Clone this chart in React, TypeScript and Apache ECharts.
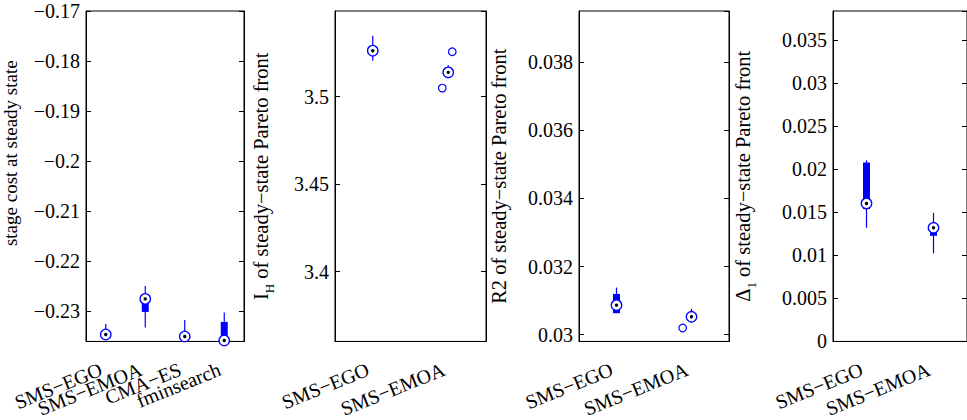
import { useEffect, useRef } from 'react';
import * as echarts from 'echarts';

const BLUE = '#0000ff';
const FONT = 'Liberation Serif';

// Panel 1: stage cost at steady state for four optimisers
const costCategories = ['SMS−EGO', 'SMS−EMOA', 'CMA−ES', 'fminsearch'];
const costLower = [-0.2349, -0.2332, -0.2352, -0.2359];
const costQ1 = [-0.2347, -0.2301, -0.2351, -0.2358];
const costMedian = [-0.2346, -0.2275, -0.235, -0.2358];
const costQ3 = [-0.2344, -0.2274, -0.2348, -0.2321];
const costUpper = [-0.2325, -0.2249, -0.2317, -0.2302];

// Panel 2: hypervolume I_H of the steady-state Pareto front
const pareto2Categories = ['SMS−EGO', 'SMS−EMOA'];
const hvLower = [3.5206, 3.5125];
const hvQ1 = [3.5245, 3.513];
const hvMedian = [3.5263, 3.5139];
const hvQ3 = [3.528, 3.515];
const hvUpper = [3.5349, 3.518];
// outliers: [category index, value, horizontal jitter as a fraction of the band]
const hvOutliers = [
  [1, 3.5257, 0.053],
  [1, 3.5049, -0.079],
];

// Panel 3: R2 indicator
const r2Lower = [0.03063, 0.03045];
const r2Q1 = [0.03063, 0.03048];
const r2Median = [0.030866, 0.030525];
const r2Q3 = [0.031195, 0.03057];
const r2Upper = [0.031382, 0.030758];
const r2Outliers = [[1, 0.030195, -0.117]];

// Panel 4: spread indicator Δ1
const deltaLower = [0.01321, 0.01024];
const deltaQ1 = [0.01538, 0.01228];
const deltaMedian = [0.01604, 0.01321];
const deltaQ3 = [0.02079, 0.0133];
const deltaUpper = [0.02105, 0.01495];

const boxRows = (n: number, lo: number[], q1: number[], med: number[], q3: number[], hi: number[]) =>
  Array.from({ length: n }, (_, i) => [i, lo[i], q1[i], med[i], q3[i], hi[i]]);

const renderBox = (_params: any, api: any) => {
  const i = api.value(0);
  const [cx, yLo] = api.coord([i, api.value(1)]);
  const yQ1 = api.coord([i, api.value(2)])[1];
  const yMed = api.coord([i, api.value(3)])[1];
  const yQ3 = api.coord([i, api.value(4)])[1];
  const yHi = api.coord([i, api.value(5)])[1];
  return {
    type: 'group',
    children: [
      { type: 'line', shape: { x1: cx, y1: yLo, x2: cx, y2: yHi }, style: { stroke: BLUE, lineWidth: 1.2 } },
      { type: 'rect', shape: { x: cx - 3.5, y: yQ3, width: 7, height: Math.max(yQ1 - yQ3, 0) }, style: { fill: BLUE } },
      { type: 'circle', shape: { cx, cy: yMed, r: 5.2 }, style: { fill: '#ffffff', stroke: BLUE, lineWidth: 1.3 } },
      { type: 'circle', shape: { cx, cy: yMed, r: 1.7 }, style: { fill: '#000000' } },
    ],
  };
};

const renderOutlier = (_params: any, api: any) => {
  const [cx, cy] = api.coord([api.value(0), api.value(1)]);
  const band = api.size([1, 0])[0];
  return {
    type: 'circle',
    shape: { cx: cx + api.value(2) * band, cy, r: 3.8 },
    style: { fill: 'none', stroke: BLUE, lineWidth: 1.2 },
  };
};

const fmt = (v: number) => String(parseFloat(v.toPrecision(10))).replace('-', '−');

const grids = [
  { left: 86, top: 11, width: 158, height: 332 },
  { left: 335, top: 11, width: 151, height: 332 },
  { left: 579, top: 11, width: 150, height: 332 },
  { left: 833, top: 11, width: 135, height: 332 },
];

const yRanges = [
  { min: -0.236, max: -0.17, splitNumber: 7, showMax: true },
  { min: 3.36, max: 3.549, splitNumber: 4, showMax: false },
  { min: 0.0298, max: 0.0395, splitNumber: 5, showMax: false },
  { min: 0, max: 0.0384, splitNumber: 8, showMax: false },
];

const nameRich = {
  m: { fontFamily: FONT, fontSize: 20.5, color: '#000' },
  s: { fontFamily: FONT, fontSize: 13, color: '#000', padding: [18, 0, 0, 0] },
};

const yNames = [
  { name: 'stage cost at steady state', gap: 66, style: { fontSize: 19, padding: [0, 0, 0, 46] } },
  { name: '{m|I}{s|H}{m| of steady−state Pareto front}', gap: 59, style: { rich: nameRich } },
  { name: 'R2 of steady−state Pareto front', gap: 70, style: { fontSize: 20.5 } },
  { name: '{m|Δ}{s|1}{m| of steady−state Pareto front}', gap: 75, style: { rich: nameRich } },
];

export default function App() {
  const ref = useRef<HTMLDivElement>(null);

  useEffect(() => {
    if (!ref.current) return;
    const chart = echarts.init(ref.current, undefined, { renderer: 'svg' });

    const categoriesPerGrid = [costCategories, pareto2Categories, pareto2Categories, pareto2Categories];

    const xAxis = categoriesPerGrid.map((cats, g) => ({
      type: 'category',
      gridIndex: g,
      data: cats,
      boundaryGap: true,
      axisLine: { show: true, lineStyle: { color: '#000', width: 1 } },
      axisTick: { show: false },
      axisLabel: {
        interval: 0,
        rotate: 22,
        margin: 25,
        padding: [0, 5, 0, 0],
        fontFamily: FONT,
        fontSize: 20,
        color: '#000',
      },
    }));

    const leftY = yRanges.map((r, g) => ({
      type: 'value',
      gridIndex: g,
      min: r.min,
      max: r.max,
      splitNumber: r.splitNumber,
      scale: true,
      position: 'left',
      name: yNames[g].name,
      nameLocation: 'middle',
      nameGap: yNames[g].gap,
      nameTextStyle: { fontFamily: FONT, color: '#000', ...yNames[g].style },
      axisLine: { show: true, lineStyle: { color: '#000', width: 1 } },
      axisTick: { show: true, inside: true, length: 5, lineStyle: { color: '#000' } },
      splitLine: { show: false },
      axisLabel: {
        showMinLabel: g === 3,
        showMaxLabel: r.showMax,
        margin: 6,
        fontFamily: FONT,
        fontSize: 20,
        color: '#000',
        formatter: fmt,
      },
    }));

    const rightY = yRanges.map((r, g) => ({
      type: 'value',
      gridIndex: g,
      min: r.min,
      max: r.max,
      splitNumber: r.splitNumber,
      scale: true,
      position: 'right',
      axisLine: { show: true, lineStyle: { color: '#000', width: 1 } },
      axisTick: { show: true, inside: true, length: 5, lineStyle: { color: '#000' } },
      splitLine: { show: false },
      axisLabel: { show: false },
    }));

    const boxSeries = [
      boxRows(4, costLower, costQ1, costMedian, costQ3, costUpper),
      boxRows(2, hvLower, hvQ1, hvMedian, hvQ3, hvUpper),
      boxRows(2, r2Lower, r2Q1, r2Median, r2Q3, r2Upper),
      boxRows(2, deltaLower, deltaQ1, deltaMedian, deltaQ3, deltaUpper),
    ].map((data, g) => ({
      type: 'custom',
      xAxisIndex: g,
      yAxisIndex: g,
      renderItem: renderBox,
      encode: { x: 0, y: [1, 2, 3, 4, 5] },
      data,
      z: 3,
    }));

    const outlierSeries = [
      { g: 1, data: hvOutliers },
      { g: 2, data: r2Outliers },
    ].map(({ g, data }) => ({
      type: 'custom',
      xAxisIndex: g,
      yAxisIndex: g,
      renderItem: renderOutlier,
      encode: { x: 0, y: 1 },
      data,
      z: 3,
    }));

    chart.setOption({
      animation: false,
      backgroundColor: '#ffffff',
      textStyle: { fontFamily: FONT },
      grid: grids.map((gr) => ({
        ...gr,
        show: true,
        borderColor: '#000',
        borderWidth: 1,
        backgroundColor: 'transparent',
        containLabel: false,
      })),
      xAxis,
      yAxis: [...leftY, ...rightY],
      series: [...boxSeries, ...outlierSeries],
    });

    return () => chart.dispose();
  }, []);

  return (
    <div
      ref={ref}
      style={{ position: 'fixed', left: 0, top: 0, width: 967, height: 420, background: '#fff' }}
    />
  );
}
